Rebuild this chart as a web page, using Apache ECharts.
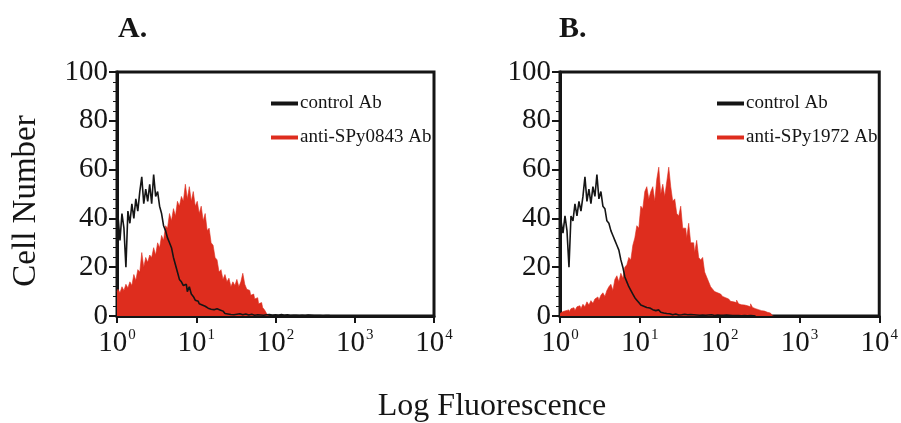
<!DOCTYPE html>
<html>
<head>
<meta charset="utf-8">
<script src="https://cdn.jsdelivr.net/npm/echarts@6/dist/echarts.min.js"></script>
<style>
  html, body { margin: 0; padding: 0; background: #fff; }
  #chart { width: 901px; height: 423px; }
</style>
</head>
<body>
<div id="chart"></div>
<script>
// histogram channels: each bin is 0.025 of a decade, starting at 10^0
var BIN = 0.025;

// panel A
var ctrlA = [37, 41, 31, 42, 36, 20, 43, 38, 46, 40, 48, 43, 51, 57, 46, 52, 47, 54, 46, 58,
  49, 51, 45, 42, 37, 35, 32, 30, 28, 24, 21, 18, 15, 14, 12.5, 13, 10, 12, 9, 8, 6.5, 6, 5, 4.5, 4,
  3.5, 3.2, 2.8, 2.5, 2.6, 3, 2.2, 2.5, 2, 1.5, 1, 0.8, 0.6, 1, 0.5, 0.7, 0.4, 0.9, 0.5, 0.6, 0.8,
  0.4, 0.5, 0.7, 0.3, 0.6, 0.5, 0.4, 0.8, 0.3, 0.5, 0.4, 0.6, 0.3, 0.4, 0.5, 0.3, 0.4, 0.6, 0.3,
  0.3, 0.5, 0.2, 0.4, 0.3, 0.3, 0.5, 0.2, 0.3, 0.3, 0.2, 0.4, 0.2, 0.3, 0.2, 0.3, 0.2, 0.2, 0.3,
  0.1, 0.2, 0.1, 0.2, 0];
var expA = [10, 11, 9.5, 12, 10.5, 13, 11.5, 14, 12.5, 17, 14.5, 19, 18, 26, 20, 24, 22, 25, 24, 28,
  25, 30, 28, 33, 31, 37, 36, 42, 39, 44, 41, 47, 45, 49, 47, 54, 48, 53, 47, 51,
  45, 47, 42, 45, 39, 42, 35, 36, 30, 29, 24, 23, 18, 19, 15, 17, 14, 15.5, 12, 14,
  12.5, 15, 12, 14, 17.5, 13, 11, 10.5, 8.5, 9, 7, 7.5, 5, 5.5, 3.5, 2.5, 1, 0];

// panel B
var ctrlB = [33, 39, 34, 41, 35, 20, 41, 39, 46, 41, 47, 43, 49, 57, 47, 52, 46, 53, 49, 58,
  48, 51, 45, 44, 39, 38, 35, 33, 31, 29, 27, 23, 20, 16, 14, 12, 10.5, 9, 7.5, 6.5, 5.5, 4.5,
  4, 3.5, 3, 3.3, 2.6, 2.8, 2.2, 2.5, 1.8, 1.5, 1.2, 1, 0.7, 0.9, 0.5, 0.6, 0.8, 0.4, 0.6, 0.5,
  0.7, 0.4, 0.5, 0.6, 0.3, 0.5, 0.4, 0.6, 0.3, 0.4, 0.5, 0.3, 0.4, 0.3, 0.5, 0.2, 0.3, 0.4, 0.3,
  0.2, 0.3, 0.4, 0.2, 0.3, 0.2, 0.3, 0.2, 0.2, 0.3, 0.1, 0.2, 0.2, 0.1, 0.2, 0.1, 0.1, 0];
var expB = [1, 1.8, 1, 2.2, 2.5, 1.5, 3, 3.4, 2.3, 3.8, 4.2, 3, 4.8, 3.8, 5.8, 4.5, 6.3, 5.2, 7, 7.8,
  6.5, 8.5, 9.5, 8, 10.5, 12, 13, 10.5, 15, 16.5, 14, 17.5, 15.5, 20, 21, 24, 23, 29, 32, 37,
  36, 45, 44, 51, 53, 48, 51, 53, 47, 56, 61, 50, 54, 49, 55, 61, 53, 47, 48, 42,
  41, 45, 36, 36, 32, 38, 30, 30, 26, 31, 24, 23, 24, 18, 16, 14, 12, 11, 10, 9.5,
  9, 8.5, 8, 7.5, 7, 6.5, 6, 5.8, 5.5, 6.5, 5, 4.6, 4.5, 4, 4.2, 3.8, 5, 3.5, 3, 2.6,
  2.4, 2.2, 2, 1.8, 1.5, 1.2, 0.8, 0];

var legendA = ['control Ab', 'anti-SPy0843 Ab'];
var legendB = ['control Ab', 'anti-SPy1972 Ab'];
var yTicks = [0, 20, 40, 60, 80, 100];

var RED = '#de2d1e';
var INK = '#151515';
var SERIF = '"Liberation Serif", "DejaVu Serif", serif';

function toPoints(vals) {
  return vals.map(function (v, i) { return [Math.pow(10, i * BIN), v]; });
}

function xAxisCfg(idx) {
  return {
    type: 'log', logBase: 10, min: 1, max: 10000, gridIndex: idx,
    axisLine: { lineStyle: { color: INK, width: 3 } },
    axisTick: { length: 7, lineStyle: { color: INK, width: 2 } },
    splitLine: { show: false },
    axisLabel: {
      margin: 12,
      formatter: function (v) {
        var e = Math.round(Math.log(v) / Math.LN10);
        return '{b|10}{s|' + e + '}';
      },
      rich: {
        b: { fontFamily: SERIF, fontSize: 29, color: INK, lineHeight: 30, verticalAlign: 'bottom' },
        s: { fontFamily: SERIF, fontSize: 15, color: INK, lineHeight: 15, verticalAlign: 'top', padding: [0, 0, 0, 1] }
      }
    }
  };
}

function yAxisCfg(idx) {
  return {
    type: 'value', min: yTicks[0], max: yTicks[yTicks.length - 1], interval: 20, gridIndex: idx,
    axisLine: { show: true, lineStyle: { color: INK, width: 3 } },
    axisTick: { show: true, length: 8, lineStyle: { color: INK, width: 2 } },
    minorTick: { show: true, splitNumber: 5, length: 4, lineStyle: { color: INK, width: 1 } },
    splitLine: { show: false },
    axisLabel: { margin: 9, fontFamily: SERIF, fontSize: 29, color: INK }
  };
}

function legendCfg(left, names) {
  return {
    left: left, top: 89, orient: 'vertical', itemGap: 15, selectedMode: false,
    icon: 'rect', itemWidth: 27, itemHeight: 4, itemStyle: { borderWidth: 0 },
    data: names,
    textStyle: { fontFamily: SERIF, fontSize: 19, color: INK, padding: [0, 0, 0, -3] }
  };
}

function histSeries(name, vals, idx, filled) {
  var s = {
    name: name, type: 'line', step: 'middle', showSymbol: false, symbol: 'none',
    xAxisIndex: idx, yAxisIndex: idx, data: toPoints(vals), sampling: null
  };
  if (filled) {
    s.itemStyle = { color: RED };
    s.lineStyle = { color: RED, width: 0.6 };
    s.areaStyle = { color: RED, opacity: 1 };
    s.z = 2;
  } else {
    s.itemStyle = { color: INK };
    s.lineStyle = { color: INK, width: 1.6 };
    s.z = 3;
  }
  return s;
}

var chart = echarts.init(document.getElementById('chart'), null, { renderer: 'canvas' });
chart.setOption({
  animation: false,
  backgroundColor: '#fff',
  grid: [
    { left: 117, top: 72, width: 317, height: 244, show: true, borderColor: INK, borderWidth: 3 },
    { left: 560, top: 72, width: 321, height: 244, show: true, borderColor: INK, borderWidth: 3 }
  ],
  xAxis: [xAxisCfg(0), xAxisCfg(1)],
  yAxis: [yAxisCfg(0), yAxisCfg(1)],
  legend: [legendCfg(266, legendA), legendCfg(712, legendB)],
  series: [
    histSeries(legendA[1], expA, 0, true),
    histSeries(legendA[0], ctrlA, 0, false),
    histSeries(legendB[1], expB, 1, true),
    histSeries(legendB[0], ctrlB, 1, false)
  ],
  graphic: [
    { type: 'text', left: 118, top: 14, style: { text: 'A.', font: 'bold 30px ' + SERIF, fill: INK } },
    { type: 'text', left: 559, top: 14, style: { text: 'B.', font: 'bold 30px ' + SERIF, fill: INK } },
    { type: 'text', x: 26, y: 201, rotation: Math.PI / 2,
      style: { text: 'Cell Number', font: '33px ' + SERIF, fill: INK, align: 'center', verticalAlign: 'middle' } },
    { type: 'text', x: 492, y: 407,
      style: { text: 'Log Fluorescence', font: '32px ' + SERIF, fill: INK, align: 'center', verticalAlign: 'middle' } }
  ]
});
</script>
</body>
</html>
